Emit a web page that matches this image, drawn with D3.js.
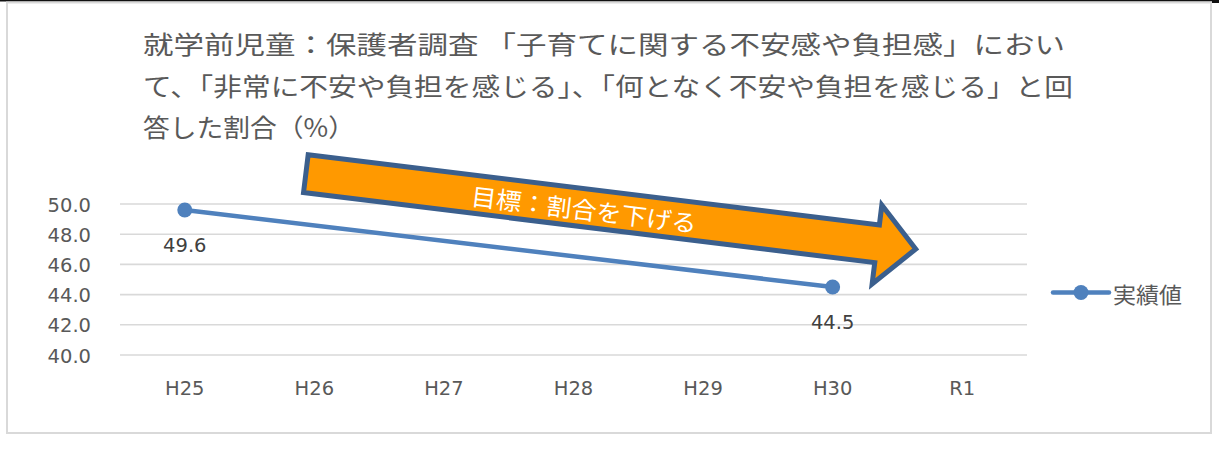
<!DOCTYPE html>
<html>
<head>
<meta charset="utf-8">
<script src="https://cdn.jsdelivr.net/npm/d3@7"></script>
<style>
  html, body { margin: 0; padding: 0; background: #fff; }
  svg { display: block; }
</style>
</head>
<body>
<svg id="chart" width="1219" height="463"></svg>
<script>
// ---- data ----
const categories = ["H25", "H26", "H27", "H28", "H29", "H30", "R1"];
const actualValues = [49.6, null, null, null, null, 44.5, null];
const yTicks = [40, 42, 44, 46, 48, 50];
const seriesName = "実績値";
const titleLines = [
  "就学前児童：保護者調査 「子育てに関する不安感や負担感」におい",
  "て、「非常に不安や負担を感じる」、「何となく不安や負担を感じる」と回",
  "答した割合（%）"
];
const arrowLabel = "目標：割合を下げる";

// ---- layout ----
const W = 1219, H = 463;
const svg = d3.select("#chart");
const cjk = "'Noto Sans CJK JP', 'Noto Sans CJK SC', sans-serif";
const latin = "'DejaVu Sans', 'Noto Sans CJK JP', sans-serif";

svg.append("rect").attr("x", 0).attr("y", 0).attr("width", W).attr("height", H).attr("fill", "#fff");
// top dark edge
svg.append("rect").attr("x", 0).attr("y", 0).attr("width", W).attr("height", 1.5).attr("fill", "#111");
svg.append("rect").attr("x", 1212).attr("y", 0).attr("width", 7).attr("height", 3).attr("fill", "#111");
// chart frame
svg.append("rect").attr("x", 7).attr("y", 2.5).attr("width", 1204).attr("height", 430.5)
  .attr("fill", "#fff").attr("stroke", "#d9d9d9").attr("stroke-width", 2);

const x = d3.scaleBand().domain(categories).range([120, 1027]).padding(0);
const y = d3.scaleLinear().domain([40, 50]).range([355, 204]);
const cx = d => x(d) + x.bandwidth() / 2;

// gridlines
svg.append("g").selectAll("line").data(yTicks).join("line")
  .attr("x1", 120).attr("x2", 1027)
  .attr("y1", d => y(d)).attr("y2", d => y(d))
  .attr("stroke", "#d9d9d9").attr("stroke-width", 1.6);

// y axis labels
const yAxis = d3.axisLeft(y).tickValues(yTicks).tickFormat(d3.format(".1f")).tickSize(0).tickPadding(0);
const gy = svg.append("g").attr("transform", "translate(91,0)").call(yAxis);
gy.select(".domain").remove();
gy.selectAll("text").attr("font-family", latin).attr("font-size", 19.5).attr("fill", "#595959")
  .attr("dy", "0.36em");

// x axis labels
const xAxis = d3.axisBottom(x).tickSize(0).tickPadding(0);
const gx = svg.append("g").attr("transform", "translate(0,388)").call(xAxis);
gx.select(".domain").remove();
gx.selectAll("text").attr("font-family", latin).attr("font-size", 19.5).attr("fill", "#595959")
  .attr("dy", "0.36em");

// title
const title = svg.append("g");
const titleWidths = [922, 930, 212];
title.selectAll("text").data(titleLines).join("text")
  .attr("x", 143).attr("y", (d, i) => 54 + i * 41.5)
  .attr("font-family", cjk).attr("font-size", 25).attr("fill", "#595959")
  .attr("textLength", (d, i) => titleWidths[i]).attr("lengthAdjust", "spacingAndGlyphs")
  .text(d => d);

// target arrow (annotation)
const arrow = svg.append("g").attr("transform", "translate(306,152) rotate(7)");
arrow.append("path")
  .attr("d", "M2.5,2.5 L578,2.5 L578,-17.5 L617,22 L578,62 L578,40.5 L2.5,40.5 Z")
  .attr("fill", "#ff9900").attr("stroke", "#3b5f8d").attr("stroke-width", 5).attr("stroke-linejoin", "miter");
arrow.append("text").attr("x", 283).attr("y", 22)
  .attr("text-anchor", "middle").attr("dominant-baseline", "central")
  .attr("font-family", cjk).attr("font-size", 24).attr("fill", "#fff")
  .attr("textLength", 227).attr("lengthAdjust", "spacingAndGlyphs")
  .text(arrowLabel);

// data series
const pts = categories.map((c, i) => ({ c, v: actualValues[i] })).filter(d => d.v != null);
const color = "#4f81bd";
svg.append("path").datum(pts)
  .attr("d", d3.line().x(d => cx(d.c)).y(d => y(d.v)))
  .attr("fill", "none").attr("stroke", color).attr("stroke-width", 4.5).attr("stroke-linecap", "round");
svg.append("g").selectAll("circle").data(pts).join("circle")
  .attr("cx", d => cx(d.c)).attr("cy", d => y(d.v)).attr("r", 7.5).attr("fill", color);
svg.append("g").selectAll("text").data(pts).join("text")
  .attr("x", d => cx(d.c)).attr("y", d => y(d.v) + 35).attr("dy", "0.36em")
  .attr("text-anchor", "middle").attr("font-family", latin).attr("font-size", 19.5).attr("fill", "#404040")
  .text(d => d3.format(".1f")(d.v));

// legend
const lg = svg.append("g").attr("transform", "translate(1053,292.5)");
lg.append("line").attr("x1", 0).attr("x2", 56).attr("y1", 0).attr("y2", 0)
  .attr("stroke", color).attr("stroke-width", 4.5).attr("stroke-linecap", "round");
lg.append("circle").attr("cx", 28).attr("cy", 0).attr("r", 7.5).attr("fill", color);
lg.append("text").attr("x", 60).attr("y", 0).attr("dominant-baseline", "central")
  .attr("font-family", cjk).attr("font-size", 22).attr("fill", "#595959")
  .attr("textLength", 69).attr("lengthAdjust", "spacingAndGlyphs")
  .text(seriesName);
</script>
</body>
</html>
